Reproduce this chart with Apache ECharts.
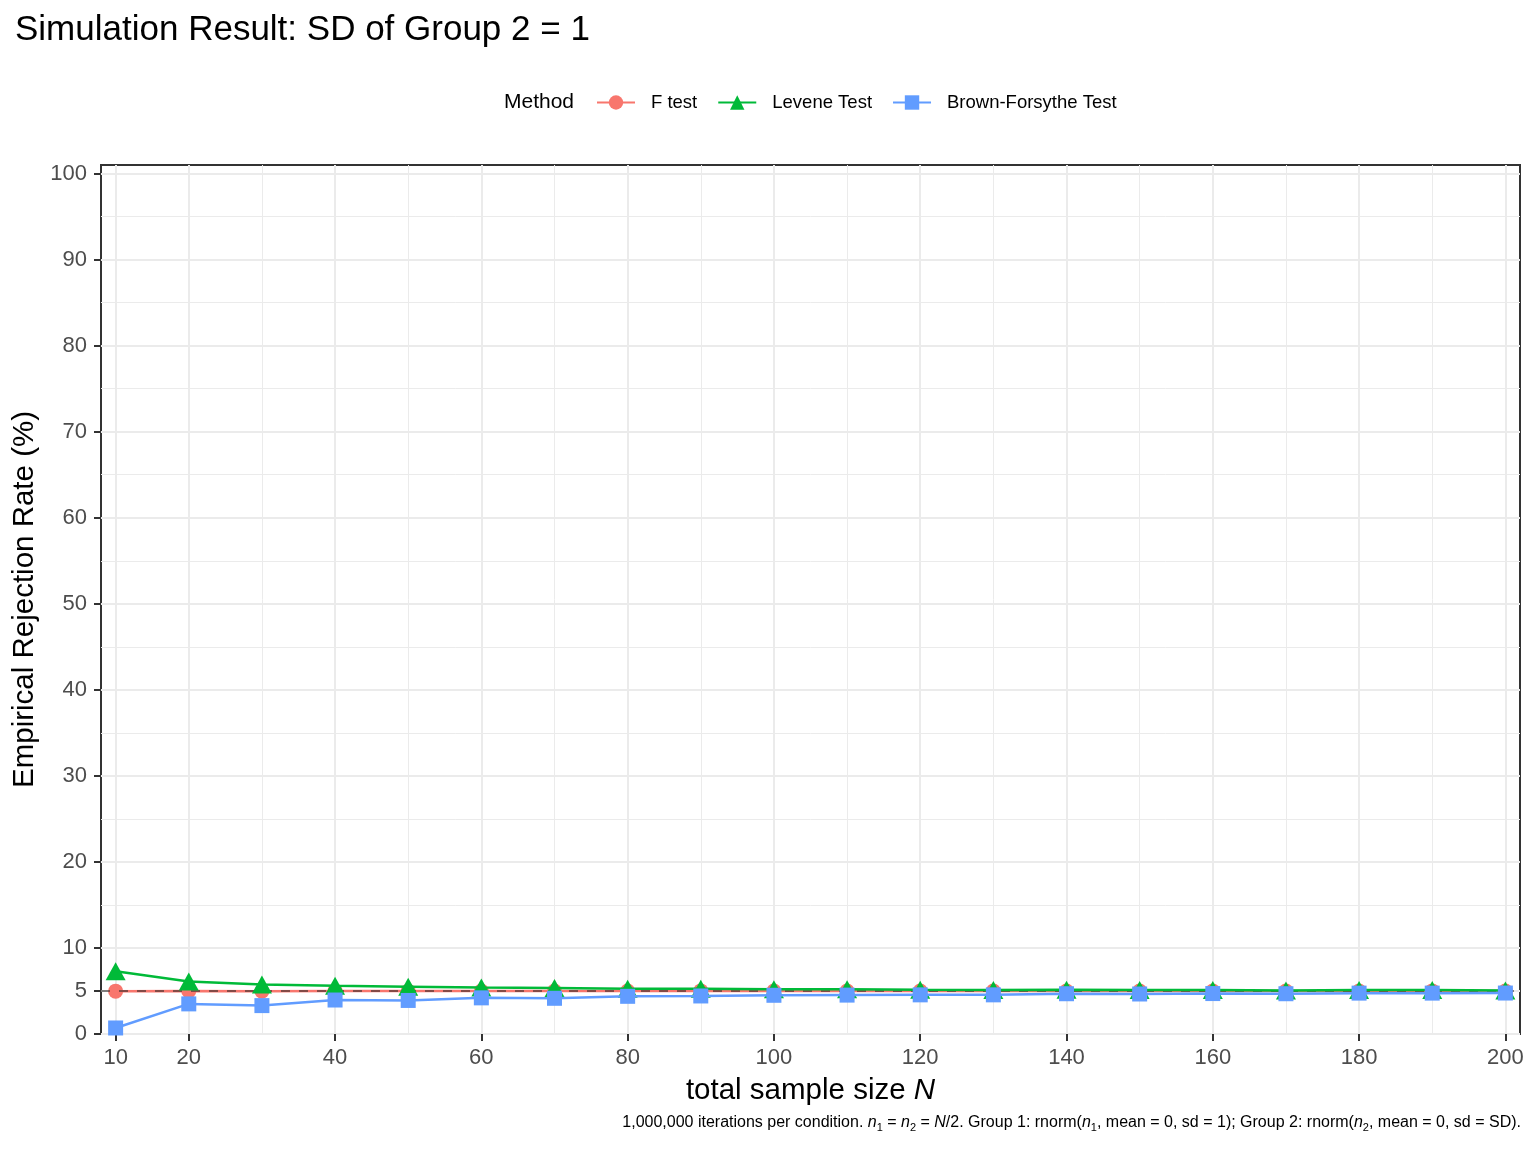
<!DOCTYPE html>
<html>
<head>
<meta charset="utf-8">
<script src="https://cdn.jsdelivr.net/npm/echarts@6/dist/echarts.min.js"></script>
<style>
html,body{margin:0;padding:0;background:#fff;}
#chart{width:1536px;height:1152px;}
</style>
</head>
<body>
<div id="chart"></div>
<script>
// ---- data ----
const sampleSizes = [10, 20, 30, 40, 50, 60, 70, 80, 90, 100, 110, 120, 130, 140, 150, 160, 170, 180, 190, 200];
const fTest = [4.98, 5.0, 4.97, 5.01, 4.99, 5.0, 5.0, 4.99, 5.01, 5.0, 4.99, 5.0, 5.0, 5.0, 4.99, 5.0, 5.0, 5.0, 5.01, 5.0];
const leveneTest = [7.3, 6.1, 5.75, 5.6, 5.5, 5.4, 5.35, 5.25, 5.25, 5.2, 5.2, 5.15, 5.12, 5.15, 5.1, 5.1, 5.05, 5.1, 5.1, 5.05];
const brownForsythe = [0.7, 3.5, 3.3, 3.95, 3.9, 4.2, 4.15, 4.38, 4.42, 4.5, 4.52, 4.55, 4.55, 4.68, 4.65, 4.7, 4.68, 4.75, 4.75, 4.76];
const seriesNames = ['F test', 'Levene Test', 'Brown-Forsythe Test'];
const xMajorTicks = [10, 20, 40, 60, 80, 100, 120, 140, 160, 180, 200];
const xMinorTicks = [30, 50, 70, 90, 110, 130, 150, 170, 190];
const yMajorTicks = [0, 5, 10, 20, 30, 40, 50, 60, 70, 80, 90, 100];
const yMinorTicks = [15, 25, 35, 45, 55, 65, 75, 85, 95];
const referenceRate = 5;

const FONT = '"Liberation Sans", Arial, Helvetica, sans-serif';
const X_MIN = 8, X_MAX = 202, Y_MIN = 0, Y_MAX = 101;
const colors = ['#F8766D', '#00BA38', '#619CFF'];

function pairs(ys) { return sampleSizes.map((x, i) => [x, ys[i]]); }

const chart = echarts.init(document.getElementById('chart'), null, {renderer: 'canvas'});

const majorGrid = {show: true, lineStyle: {color: '#ebebeb', width: 2}};
const minorGrid = {show: true, lineStyle: {color: '#ebebeb', width: 1}};

const option = {
  backgroundColor: '#ffffff',
  animation: false,
  textStyle: {fontFamily: FONT},
  title: [
    {text: 'Simulation Result: SD of Group 2 = 1', left: 10, top: 8,
     textStyle: {fontFamily: FONT, fontSize: 35, fontWeight: 'normal', color: '#000'}},
    {text: 'Method', left: 499, top: 87,
     textStyle: {fontFamily: FONT, fontSize: 21, fontWeight: 'normal', color: '#000'}}
  ],
  legend: {
    data: seriesNames,
    left: 591, top: 88,
    itemWidth: 38, itemHeight: 18, itemGap: 20,
    textStyle: {fontFamily: FONT, fontSize: 18.5, color: '#000', padding: [0, 0, 0, 11]}
  },
  grid: {left: 101, right: 16, top: 165, bottom: 118, show: true, borderColor: '#333333', borderWidth: 2, backgroundColor: 'transparent'},
  xAxis: [
    {
      type: 'value', min: X_MIN, max: X_MAX,
      name: 'total sample size {i|N}', nameLocation: 'middle', nameGap: 42,
      nameTextStyle: {fontFamily: FONT, fontSize: 29.5, color: '#000',
        rich: {i: {fontFamily: FONT, fontSize: 29.5, fontStyle: 'italic', color: '#000'}}},
      axisLine: {show: false},
      axisTick: {show: true, length: 7, customValues: xMajorTicks, lineStyle: {color: '#333', width: 2}},
      axisLabel: {customValues: xMajorTicks, fontFamily: FONT, fontSize: 22, color: '#4d4d4d', margin: 13},
      splitLine: majorGrid
    },
    {
      type: 'value', min: X_MIN, max: X_MAX, position: 'top',
      axisLine: {show: false}, axisLabel: {show: false},
      axisTick: {show: false, customValues: xMinorTicks},
      splitLine: minorGrid
    }
  ],
  yAxis: [
    {
      type: 'value', min: Y_MIN, max: Y_MAX,
      name: 'Empirical Rejection Rate (%)', nameLocation: 'middle', nameGap: 51, nameRotate: 90,
      nameTextStyle: {fontFamily: FONT, fontSize: 29.5, color: '#000'},
      axisLine: {show: false},
      axisTick: {show: true, length: 7, customValues: yMajorTicks, lineStyle: {color: '#333', width: 2}},
      axisLabel: {customValues: yMajorTicks, fontFamily: FONT, fontSize: 22, color: '#4d4d4d', margin: 14},
      splitLine: majorGrid
    },
    {
      type: 'value', min: Y_MIN, max: Y_MAX, position: 'right',
      axisLine: {show: false}, axisLabel: {show: false},
      axisTick: {show: false, customValues: yMinorTicks},
      splitLine: minorGrid
    }
  ],
  series: [
    {
      name: seriesNames[0], type: 'line', data: pairs(fTest),
      symbol: 'circle', symbolSize: 15, z: 3,
      lineStyle: {color: colors[0], width: 2.5}, itemStyle: {color: colors[0]},
      markLine: {
        silent: true, symbol: 'none', z: 4,
        label: {show: false},
        lineStyle: {color: 'rgba(40,40,40,0.75)', width: 1.6, type: [9, 9]},
        data: [{yAxis: referenceRate}]
      }
    },
    {
      name: seriesNames[1], type: 'line', data: pairs(leveneTest),
      symbol: 'triangle', symbolSize: [20, 18], z: 5,
      lineStyle: {color: colors[1], width: 2.5}, itemStyle: {color: colors[1]}
    },
    {
      name: seriesNames[2], type: 'line', data: pairs(brownForsythe),
      symbol: 'rect', symbolSize: 15, z: 6,
      lineStyle: {color: colors[2], width: 2.5}, itemStyle: {color: colors[2]}
    }
  ],
  graphic: [
    {
      type: 'text', right: 15, top: 1115,
      style: {
        text: '1,000,000 iterations per condition. {i|n}{s|1} = {i|n}{s|2} = {i|N}/2. Group 1: rnorm({i|n}{s|1}, mean = 0, sd = 1); Group 2: rnorm({i|n}{s|2}, mean = 0, sd = SD).',
        fontFamily: FONT, fontSize: 16, fill: '#000',
        rich: {
          i: {fontFamily: FONT, fontSize: 16, fontStyle: 'italic', fill: '#000'},
          s: {fontFamily: FONT, fontSize: 11, fill: '#000', verticalAlign: 'bottom', padding: [9, 0, 0, 0]}
        }
      }
    }
  ]
};
chart.setOption(option);
</script>
</body>
</html>
